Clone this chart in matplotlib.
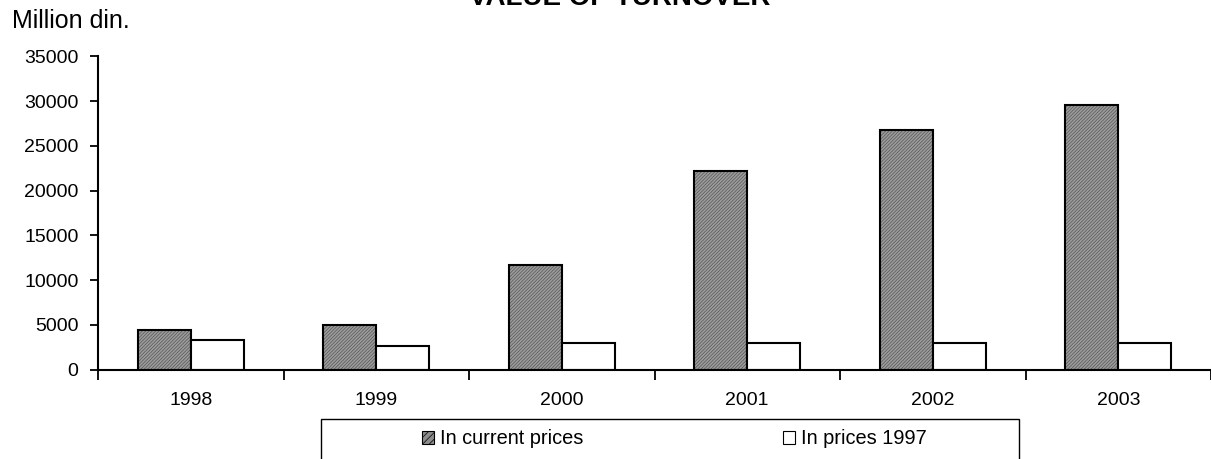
import matplotlib
matplotlib.use('Agg')
import matplotlib.pyplot as plt
import matplotlib.patches as mpatches
import numpy as np

# ----------- Data ------------
years = ['1998', '1999', '2000', '2001', '2002', '2003']
current_prices = [4380, 4940, 11680, 22220, 26770, 29600]
prices_1997 = [3260, 2630, 3000, 3000, 3000, 3000]

label_current = 'In current prices'
label_1997 = 'In prices 1997'

plt.rcParams['font.family'] = ['Liberation Sans', 'DejaVu Sans']
plt.rcParams['hatch.linewidth'] = 0.5

W, H = 1211, 459
fig = plt.figure(figsize=(W / 100, H / 100), dpi=100)
ax = fig.add_axes([98 / W, (H - 369.5) / H, (W - 98) / W, (369.5 - 56.4) / H])

x = np.arange(len(years))
width = 0.286

# gray hatched bars: fill first, then black outline
ax.bar(x - width / 2, current_prices, width=width, facecolor='#9c9c9c',
       edgecolor='#555555', hatch='//////////', linewidth=0)
ax.bar(x - width / 2, current_prices, width=width, fill=False,
       edgecolor='black', linewidth=1.5)
ax.bar(x + width / 2, prices_1997, width=width, facecolor='white',
       edgecolor='black', linewidth=1.5)

ax.set_xlim(-0.5, len(years) - 0.5)
ax.set_ylim(0, 35000)
ax.set_yticks(np.arange(0, 35001, 5000))
ax.tick_params(axis='y', labelsize=14, length=6, width=1.3, pad=8)

ax.set_xticks(x)
ax.set_xticklabels(years)
ax.set_xticks(np.arange(-0.5, len(years)), minor=True)
ax.tick_params(axis='x', which='major', length=0, labelsize=14, pad=16)
ax.tick_params(axis='x', which='minor', length=7, width=1.3)

for side in ['top', 'right']:
    ax.spines[side].set_visible(False)
for side in ['left', 'bottom']:
    ax.spines[side].set_linewidth(1.5)

# ----------- Texts ------------
fig.text(620 / W, 1 - 5 / H, 'VALUE OF TURNOVER', ha='center', va='baseline',
         fontsize=20, fontweight='bold')
fig.text(12 / W, 1 - 28 / H, 'Million din.', ha='left', va='baseline', fontsize=18)

# ----------- Legend ------------
box = mpatches.Rectangle((321 / W, -0.05), (1019 - 321) / W, 0.05 + (H - 419) / H,
                         transform=fig.transFigure, fill=False,
                         edgecolor='black', linewidth=1.0)
fig.patches.append(box)

handles = [mpatches.Patch(facecolor='#8c8c8c', edgecolor='black', hatch='/////',
                          linewidth=0.8),
           mpatches.Patch(facecolor='white', edgecolor='black', linewidth=0.8)]
fig.legend(handles, [label_current, label_1997], loc='center left',
           bbox_to_anchor=(421.7 / W, 1 - 439 / H), ncol=2, frameon=False,
           fontsize=14.4, borderpad=0, borderaxespad=0,
           handlelength=0.6, handleheight=0.6, handletextpad=0.3,
           columnspacing=10.0)

fig.savefig('out.png', dpi=100)
